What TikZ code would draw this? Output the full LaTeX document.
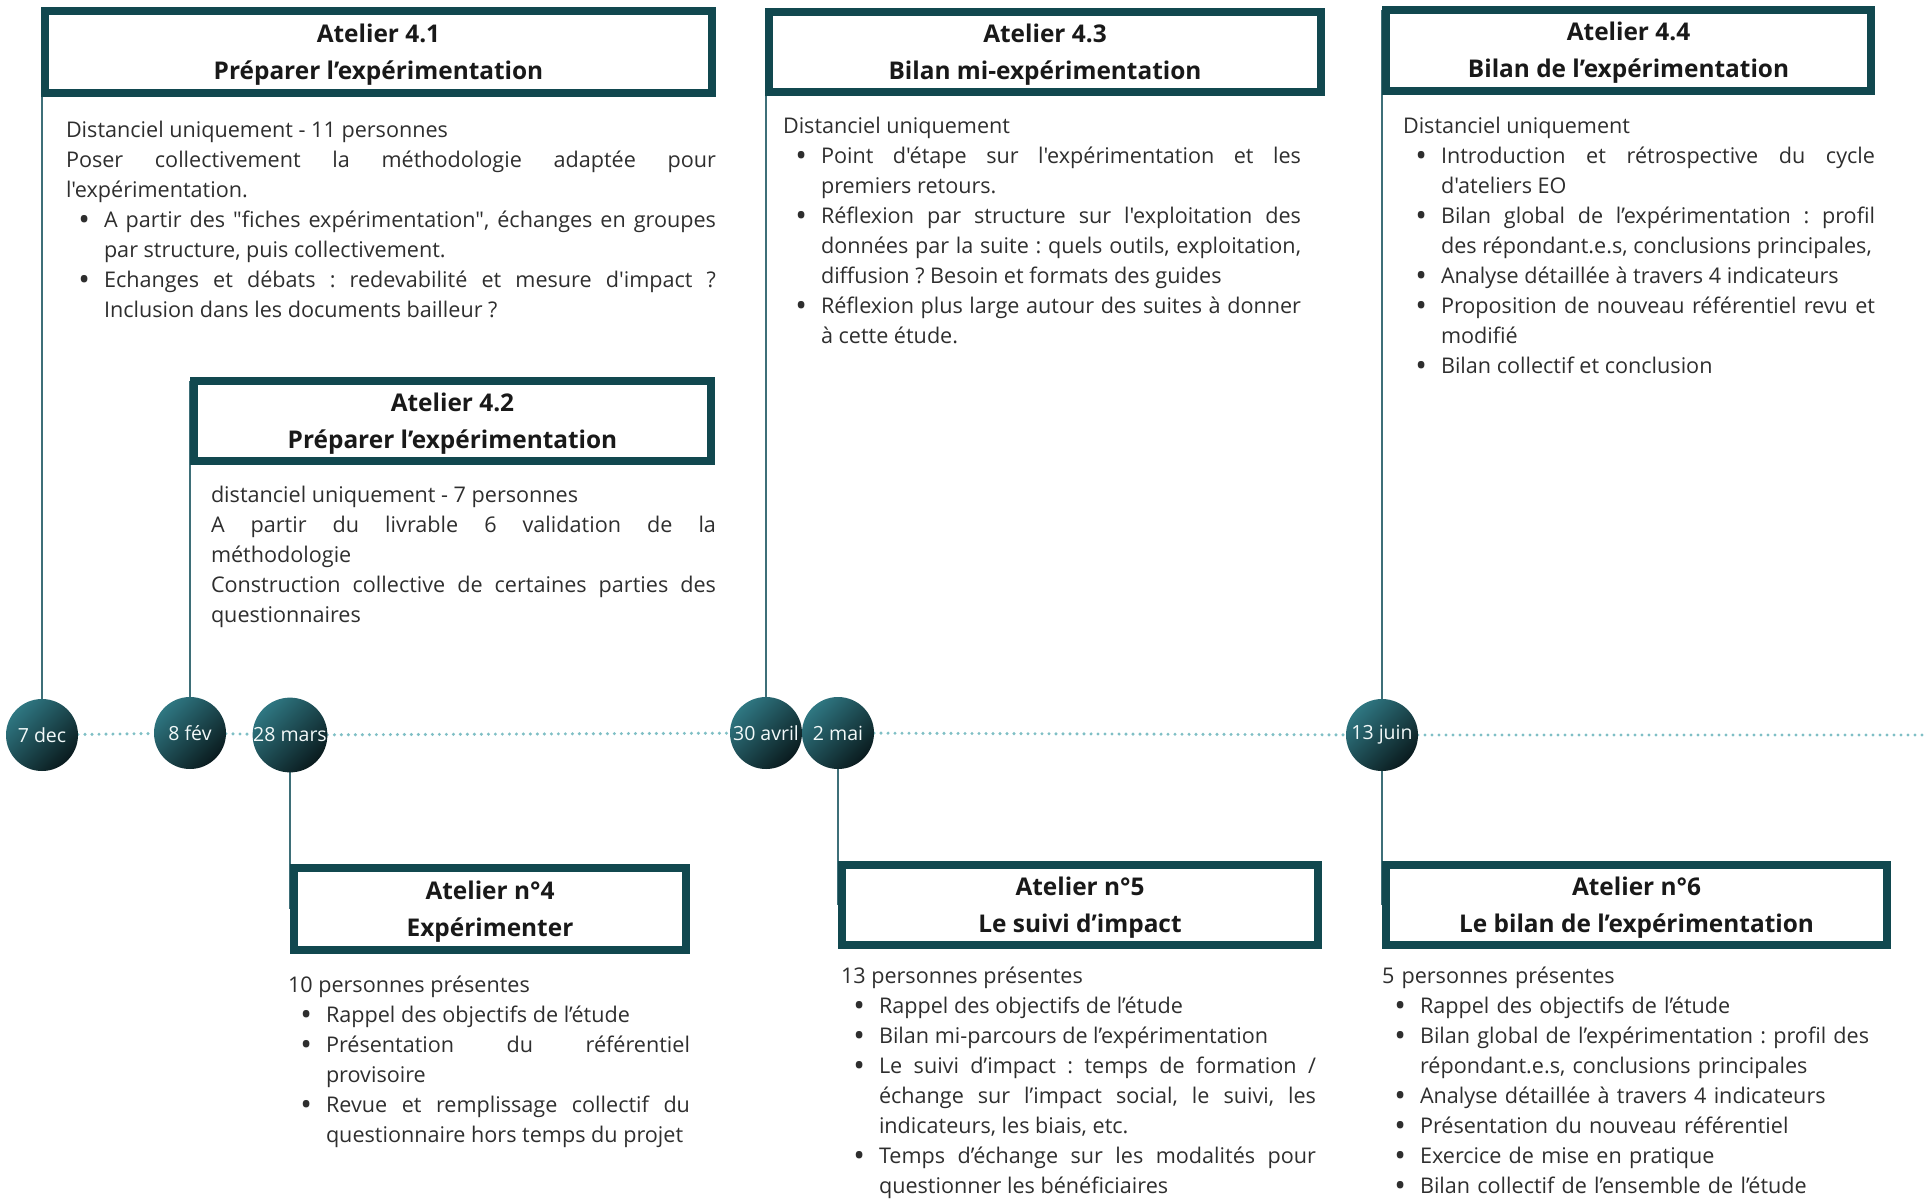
\documentclass[tikz,border=0pt]{standalone}
\usepackage{fontspec}
\setmainfont{Open Sans}[Ligatures=TeXOff]
\usepackage{enumitem}
\setlist[itemize]{leftmargin=38pt,labelsep=14pt,itemsep=0pt,topsep=0pt,parsep=0pt,partopsep=0pt,
	label=\smash{\raisebox{-3.4pt}{\fontsize{31}{31}\selectfont\textbullet}}}
\usetikzlibrary{backgrounds}
\definecolor{boxteal}{HTML}{11484F}
\definecolor{stemteal}{HTML}{3E6F78}
\definecolor{dotteal}{HTML}{7FBFC5}
\definecolor{dotlight}{HTML}{2F7782}
\definecolor{dotdark}{HTML}{0A1B1E}
\definecolor{bodygray}{HTML}{2E2E2E}
\newcommand{\titlestrut}{\rule{0pt}{23.5pt}}
\frenchspacing
\begin{document}
\begin{tikzpicture}[x=1pt,y=-1pt,
	every node/.style={inner sep=0pt,outer sep=0pt},
	titlebox/.style={draw=boxteal,line width=8pt,fill=white,anchor=north west,align=center,
		text=black!90,font=\bfseries\fontsize{24.4}{37}\selectfont},
	datedot/.style={circle,minimum size=72pt,top color=dotlight,bottom color=dotdark,shading angle=45,
		text=white!90!dotteal,font=\fontsize{19.5}{20}\selectfont},
	bodytext/.style={anchor=north west,align=justify,text=bodygray,font=\fontsize{21.6}{30}\selectfont\frenchspacing},
	stem/.style={draw=stemteal,line width=2pt},
	timeline/.style={draw=dotteal,line width=3.4pt,line cap=round,dash pattern=on 0pt off 7pt}]
	\useasboundingbox (0,0) rectangle (1925,1200);
	\node[datedot] (d1) at (42,735) {7 dec};
	\node[datedot] (d2) at (190,733) {8 fév};
	\node[datedot] (d3) at (290,735) {28 mars};
	\node[datedot] (d4) at (766,733) {30 avril};
	\node[datedot] (d5) at (838,733) {2 mai};
	\node[datedot] (d6) at (1382,735) {13 juin};
	\coordinate (tend) at (1925,735);
	\node[titlebox,minimum width=667pt,minimum height=82pt] (a41) at (45,11) {\titlestrut Atelier 4.1\\Préparer l’expérimentation};
	\node[titlebox,minimum width=517pt,minimum height=80pt] (a42) at (194,381) {\titlestrut Atelier 4.2\\Préparer l’expérimentation};
	\node[titlebox,minimum width=552pt,minimum height=80pt] (a43) at (769,12) {\titlestrut Atelier 4.3\\Bilan mi-expérimentation};
	\node[titlebox,minimum width=485pt,minimum height=81pt] (a44) at (1386,10) {\titlestrut Atelier 4.4\\Bilan de l’expérimentation};
	\node[titlebox,minimum width=392pt,minimum height=82pt] (a4) at (294,868) {\titlestrut Atelier n°4\\Expérimenter};
	\node[titlebox,minimum width=476pt,minimum height=80pt] (a5) at (842,865) {\titlestrut Atelier n°5\\Le suivi d’impact};
	\node[titlebox,minimum width=501pt,minimum height=80pt] (a6) at (1386,865) {\titlestrut Atelier n°6\\Le bilan de l’expérimentation};
	\node[bodytext,text width=650pt] (t41) at (66,121) {Distanciel uniquement - 11 personnes\par
		Poser collectivement la méthodologie adaptée pour \linebreak l'expérimentation.
		\begin{itemize}
			\item A partir des "fiches expérimentation", échanges en groupes \linebreak par structure, puis collectivement.
			\item Echanges et débats : redevabilité et mesure d'impact ? \linebreak Inclusion dans les documents bailleur ?
		\end{itemize}};
	\node[bodytext,text width=505pt] (t42) at (211,486) {distanciel uniquement - 7 personnes\par
		A partir du livrable 6 validation de la \linebreak méthodologie\par
		Construction collective de certaines parties des \linebreak questionnaires};
	\node[bodytext,text width=518pt] (t43) at (783,117) {Distanciel uniquement
		\begin{itemize}
			\item Point d'étape sur l'expérimentation et les \linebreak premiers retours.
			\item Réflexion par structure sur l'exploitation des \linebreak données par la suite : quels outils, exploitation, \linebreak diffusion ? Besoin et formats des guides
			\item Réflexion plus large autour des suites à donner \linebreak à cette étude.
		\end{itemize}};
	\node[bodytext,text width=472pt] (t44) at (1403,117) {Distanciel uniquement
		\begin{itemize}
			\item Introduction et rétrospective du cycle \linebreak d'ateliers EO
			\item Bilan global de l’expérimentation : profil \linebreak des répondant.e.s, conclusions principales,
			\item Analyse détaillée à travers 4 indicateurs
			\item Proposition de nouveau référentiel revu et \linebreak modifié
			\item Bilan collectif et conclusion
		\end{itemize}};
	\node[bodytext,text width=402pt] (t4) at (288,976) {10 personnes présentes
		\begin{itemize}
			\item Rappel des objectifs de l’étude
			\item Présentation du référentiel \linebreak provisoire
			\item Revue et remplissage collectif du \linebreak questionnaire hors temps du projet
		\end{itemize}};
	\node[bodytext,text width=475pt] (t5) at (841,967) {13 personnes présentes
		\begin{itemize}
			\item Rappel des objectifs de l’étude
			\item Bilan mi-parcours de l’expérimentation
			\item Le suivi d’impact : temps de formation / \linebreak échange sur l’impact social, le suivi, les \linebreak indicateurs, les biais, etc.
			\item Temps d’échange sur les modalités pour \linebreak questionner les bénéficiaires
		\end{itemize}};
	\node[bodytext,align=left,text width=509pt] (t6) at (1382,967) {5 personnes présentes
		\begin{itemize}
			\item Rappel des objectifs de l’étude
			\item Bilan global de l’expérimentation : profil des \newline répondant.e.s, conclusions principales
			\item Analyse détaillée à travers 4 indicateurs
			\item Présentation du nouveau référentiel
			\item Exercice de mise en pratique
			\item Bilan collectif de l’ensemble de l’étude
		\end{itemize}};
	\begin{scope}[on background layer]
		\draw[timeline] (d1) -- (d2) -- (d3) -- (d4) -- (d5) -- (d6) -- (tend);
		\draw[stem] (d1) -- (d1 |- a41.north);
		\draw[stem] (d2) -- (d2 |- a42.north);
		\draw[stem] (d4) -- (d4 |- a43.north);
		\draw[stem] (d6) -- (d6 |- a44.north);
		\draw[stem] (d3) -- (d3 |- a4.west);
		\draw[stem] (d5) -- (d5 |- a5.west);
		\draw[stem] (d6) -- (d6 |- a6.west);
	\end{scope}
\end{tikzpicture}
\end{document}
